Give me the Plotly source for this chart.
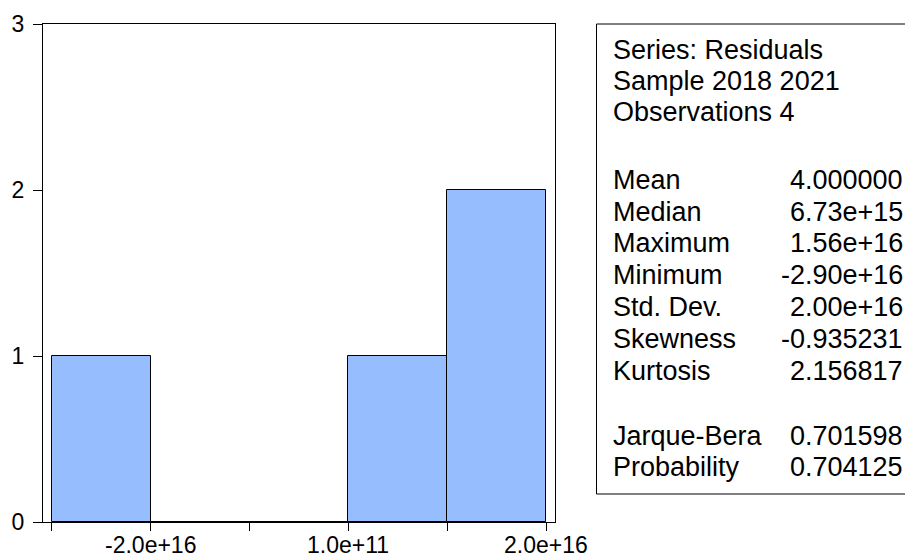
import plotly.graph_objects as go

# ---- data ----
bin_edges = [-3.0e16, -2.0e16, -1.0e16, 0.0, 1.0e16, 2.0e16]
counts = [1, 0, 0, 1, 2]
x_tick_values = [-2.0e16, 1.0e11, 2.0e16]
x_tick_labels = ["-2.0e+16", "1.0e+11", "2.0e+16"]
y_tick_values = [0, 1, 2, 3]

header_lines = ["Series: Residuals", "Sample 2018 2021", "Observations 4"]
stat_names = ["Mean", "Median", "Maximum", "Minimum", "Std. Dev.", "Skewness", "Kurtosis"]
stat_values = ["4.000000", "6.73e+15", "1.56e+16", "-2.90e+16", "2.00e+16", "-0.935231", "2.156817"]
test_names = ["Jarque-Bera", "Probability"]
test_values = ["0.701598", "0.704125"]

# ---- layout geometry (page pixels; the page body adds an 8px offset) ----
OFF = 8
W, H = 913 - OFF, 560 - OFF
L, R, T, B = 43 - OFF, 555 - OFF, 24 - OFF, 522 - OFF


def xp(px):
    return (px - OFF - L) / (R - L)


def yp(py):
    return (B - (py - OFF)) / (B - T)


centers = [(a + b) / 2 for a, b in zip(bin_edges[:-1], bin_edges[1:])]
widths = [b - a for a, b in zip(bin_edges[:-1], bin_edges[1:])]
span = bin_edges[-1] - bin_edges[0]
pad = span * (9 / 495)

FONT = "Liberation Sans, Arial, sans-serif"

fig = go.Figure()
fig.add_trace(go.Bar(
    x=centers, y=counts, width=widths,
    marker=dict(color="rgb(150,190,255)", line=dict(color="black", width=1)),
    hoverinfo="skip",
))

fig.update_layout(
    template="none",
    width=W, height=H,
    margin=dict(l=L, r=W - R, t=T, b=H - B, pad=0),
    paper_bgcolor="white", plot_bgcolor="white",
    showlegend=False,
    bargap=0,
    font=dict(family=FONT, color="black", size=23),
    xaxis=dict(
        automargin=False,
        range=[bin_edges[0] - pad, bin_edges[-1] + pad],
        tickmode="array", tickvals=bin_edges, showticklabels=False,
        ticks="outside", ticklen=8, tickcolor="black", tickwidth=1,
        showline=True, linecolor="black", linewidth=1.3, mirror=True,
        showgrid=False, zeroline=False,
    ),
    yaxis=dict(
        automargin=False,
        range=[0, 3],
        tickmode="array", tickvals=y_tick_values,
        ticks="outside", ticklen=9, tickcolor="black", tickwidth=1,
        showline=True, linecolor="black", linewidth=1.3, mirror=True,
        showgrid=False, zeroline=False,
        tickfont=dict(size=23), ticklabelstandoff=4,
    ),
)

# x tick labels placed on the x scale, kept inside the page
for tv, tl in zip(x_tick_values, x_tick_labels):
    fig.add_annotation(xref="x", yref="paper", x=tv, y=yp(560),
                       text=tl, showarrow=False, xanchor="center", yanchor="bottom",
                       font=dict(size=23, family=FONT, color="black"))

# stats box
fig.add_shape(type="rect", xref="paper", yref="paper",
              x0=xp(596.5), x1=xp(930), y0=yp(494), y1=yp(24),
              line=dict(color="black", width=1), fillcolor="rgba(0,0,0,0)")

SF = 27
LX, VX = 611, 905
header_y = [50, 81, 112]
stat_y = [180, 212, 243, 275, 307, 339, 371]
test_y = [436, 467]

for txt, py in zip(header_lines, header_y):
    fig.add_annotation(xref="paper", yref="paper", x=xp(LX), y=yp(py),
                       text=txt, showarrow=False, xanchor="left", yanchor="middle",
                       font=dict(size=SF, family=FONT, color="black"))
for names, vals, ys in ((stat_names, stat_values, stat_y), (test_names, test_values, test_y)):
    for n, v, py in zip(names, vals, ys):
        fig.add_annotation(xref="paper", yref="paper", x=xp(LX), y=yp(py),
                           text=n, showarrow=False, xanchor="left", yanchor="middle",
                           font=dict(size=SF, family=FONT, color="black"))
        fig.add_annotation(xref="paper", yref="paper", x=xp(VX), y=yp(py),
                           text=v, showarrow=False, xanchor="right", yanchor="middle",
                           font=dict(size=SF, family=FONT, color="black"))

fig.write_html("out.html")
